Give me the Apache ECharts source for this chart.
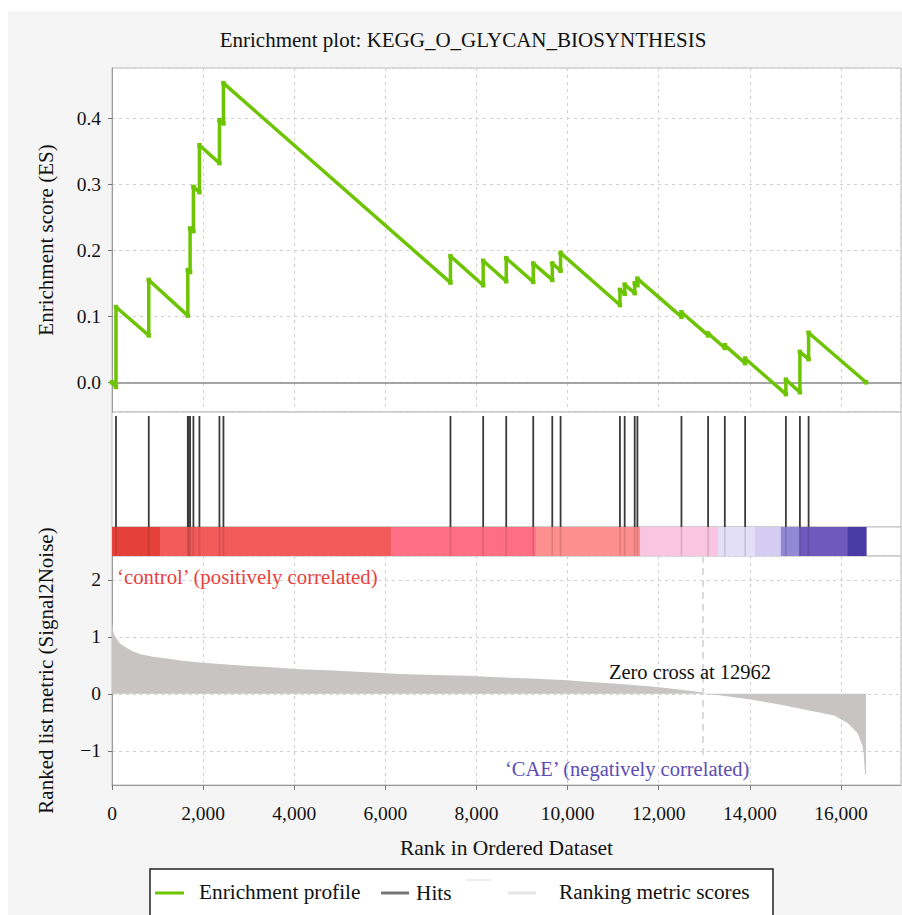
<!DOCTYPE html>
<html>
<head>
<meta charset="utf-8">
<script src="https://cdn.jsdelivr.net/npm/echarts@6/dist/echarts.min.js"></script>
<style>
html,body{margin:0;padding:0;background:#fff;}
#main{width:902px;height:915px;}
</style>
</head>
<body>
<div id="main"></div>
<script>
// ---------- data ----------
const chartTitle = 'Enrichment plot: KEGG_O_GLYCAN_BIOSYNTHESIS';
const rankMax = 17318;           // right edge of the x axis
const xTickStep = 2000;
const zeroCross = 12962;

// running enrichment score vertices [rank, ES]
const esCurve = [
  [0,0.000],[87,-0.007],[88,0.114],[807,0.071],[807,0.155],[1664,0.101],[1664,0.170],
  [1714,0.167],[1714,0.233],[1787,0.229],[1787,0.296],[1919,0.288],[1919,0.359],
  [2358,0.332],[2358,0.397],[2446,0.392],[2446,0.453],[7429,0.151],[7429,0.191],
  [8147,0.147],[8147,0.184],[8653,0.153],[8653,0.188],[9246,0.152],[9246,0.180],
  [9664,0.155],[9664,0.180],[9846,0.169],[9846,0.196],[11149,0.117],[11149,0.140],
  [11253,0.134],[11253,0.148],[11473,0.135],[11473,0.150],[11532,0.147],[11532,0.157],
  [12499,0.099],[12499,0.106],[13084,0.071],[13084,0.074],[13451,0.052],[13451,0.056],
  [13897,0.029],[13897,0.036],[14791,-0.018],[14791,0.004],[15099,-0.015],[15099,0.046],
  [15290,0.035],[15290,0.075],[16550,0.000]
];

// positions of gene-set members in the ranked list
const hitRanks = [88,807,1664,1686,1714,1787,1919,2358,2446,7429,8147,8653,9246,9664,9846,
  11149,11253,11473,11532,12499,13084,13451,13897,14791,15099,15290];

// ranked list metric samples [rank, Signal2Noise]
const metricCurve = [
  [0,1.27],[8,1.22],[20,1.12],[45,1.04],[100,0.97],[180,0.88],[320,0.81],[450,0.75],[615,0.70],
  [900,0.65],[1200,0.62],[1550,0.58],[1934,0.55],[2300,0.53],[2660,0.505],[3000,0.49],
  [3400,0.47],[3800,0.45],[4130,0.43],[4860,0.41],[5600,0.38],[6330,0.35],[7060,0.33],
  [7795,0.32],[8455,0.29],[9200,0.27],[10000,0.24],[10500,0.21],[11018,0.18],[11500,0.15],
  [11970,0.12],[12483,0.07],[12962,0.03],[12963,-0.002],[13290,-0.02],[14022,-0.10],
  [14681,-0.19],[15413,-0.31],[15853,-0.38],[16147,-0.51],[16367,-0.69],[16476,-0.92],
  [16500,-1.05],[16530,-1.42],[16549,-1.42],[16550,0]
];

// heat-map bar segments [startRank, endRank]
const barSegments = [
  [0,1055],[1055,6125],[6125,9297],[9297,11589],[11589,13303],[13303,14110],
  [14110,14681],[14681,15084],[15084,16147],[16147,16550]
];
const barColors = ['#e5413a','#f35a5a','#fe6f86','#fe8f8f','#f9c5e0','#e3dff8',
  '#d5ccf1','#9189d6','#7059bc','#4a3aa5'];

// ---------- chart ----------
const FONT = '"Liberation Serif", "Times New Roman", serif';
const chart = echarts.init(document.getElementById('main'), null, {renderer:'svg'});

const gridLeft = 112, gridRight = 1;
const dashed = {show:true, lineStyle:{color:'#d0d0d0', type:[3,4], width:1}};
const fmtRank = v => v.toLocaleString('en-US');
const fmtMinus = v => (v < 0 ? '\u2212' + Math.abs(v) : String(v));

function xAx(gi, opts) {
  return Object.assign({
    type:'value', gridIndex:gi, min:0, max:rankMax, interval:xTickStep,
    axisLabel:{show:false}, axisTick:{show:false}, axisLine:{show:false},
    splitLine:{show:false}
  }, opts);
}

const option = {
  backgroundColor:'#f5f5f5',
  animation:false,
  grid:[
    {left:gridLeft, right:gridRight, top:68, height:344, show:true, backgroundColor:'#fff', borderColor:'#bdbdbd', borderWidth:1},
    {left:gridLeft, right:gridRight, top:412, height:115, show:true, backgroundColor:'#fff', borderColor:'#bdbdbd', borderWidth:1},
    {left:gridLeft, right:gridRight, top:527, height:29, show:true, backgroundColor:'#fff', borderColor:'#bdbdbd', borderWidth:1},
    {left:gridLeft, right:gridRight, top:556, height:229, show:true, backgroundColor:'#fff', borderColor:'#bdbdbd', borderWidth:1}
  ],
  xAxis:[
    xAx(0, {splitLine:dashed, axisLine:{show:true, onZero:true, lineStyle:{color:'#8a8a8a', width:1.5}}}),
    xAx(1, {}),
    xAx(2, {}),
    xAx(3, {
      splitLine:dashed,
      axisLine:{show:true, onZero:false, lineStyle:{color:'#9a9a9a', width:1}},
      axisTick:{show:true, length:5, lineStyle:{color:'#777'}},
      axisLabel:{show:true, formatter:fmtRank, showMaxLabel:false, margin:18,
        color:'#111', fontFamily:FONT, fontSize:19.5},
      name:'Rank in Ordered Dataset', nameLocation:'middle', nameGap:52,
      nameTextStyle:{color:'#111', fontFamily:FONT, fontSize:21.5}
    })
  ],
  yAxis:[
    {type:'value', gridIndex:0, min:-0.045, max:0.476, splitNumber:5,
      axisLine:{show:true, lineStyle:{color:'#9a9a9a'}},
      axisTick:{show:true, length:4, lineStyle:{color:'#777'}},
      axisLabel:{formatter:v => v.toFixed(1), showMinLabel:false, showMaxLabel:false,
        margin:11, color:'#111', fontFamily:FONT, fontSize:19.5},
      splitLine:dashed,
      name:'Enrichment score (ES)', nameLocation:'middle', nameGap:56,
      nameTextStyle:{color:'#111', fontFamily:FONT, fontSize:21}
    },
    {type:'value', gridIndex:1, min:0, max:1, show:false, splitLine:{show:false}},
    {type:'value', gridIndex:2, min:0, max:1, show:false, splitLine:{show:false}},
    {type:'value', gridIndex:3, min:-1.6, max:2.42, splitNumber:5,
      axisLine:{show:true, onZero:false, lineStyle:{color:'#9a9a9a'}},
      axisTick:{show:true, length:4, lineStyle:{color:'#777'}},
      axisLabel:{formatter:fmtMinus, showMinLabel:false, showMaxLabel:false,
        margin:11, color:'#111', fontFamily:FONT, fontSize:19.5},
      splitLine:dashed,
      name:'Ranked list metric (Signal2Noise)', nameLocation:'middle', nameGap:56,
      nameTextStyle:{color:'#111', fontFamily:FONT, fontSize:21}
    }
  ],
  series:[
    {
      name:'Enrichment profile', type:'line', xAxisIndex:0, yAxisIndex:0,
      data:esCurve, symbol:'rect', symbolSize:4.5, showSymbol:true,
      itemStyle:{color:'#6dc400'}, lineStyle:{color:'#6dc400', width:3.5}, z:5
    },
    {
      name:'Hits', type:'custom', xAxisIndex:1, yAxisIndex:1,
      data:hitRanks.map(r => [r, 0]), encode:{x:0, y:1},
      renderItem:(params, api) => {
        const top = api.coord([api.value(0), 1]);
        const bot = api.coord([api.value(0), 0]);
        return {type:'line', shape:{x1:top[0], y1:top[1] + 4, x2:bot[0], y2:bot[1]},
          style:{stroke:'#3a3a3a', lineWidth:1.8}};
      }, z:4
    },
    {
      name:'Bar', type:'custom', xAxisIndex:2, yAxisIndex:2,
      data:barSegments, encode:{x:[0,1]},
      renderItem:(params, api) => {
        const a = api.coord([api.value(0), 1]);
        const b = api.coord([api.value(1), 0]);
        return {type:'rect', shape:{x:a[0], y:a[1], width:b[0] - a[0] + 0.6, height:b[1] - a[1]},
          style:{fill:barColors[params.dataIndex]}};
      }, z:3
    },
    {
      name:'HitsOnBar', type:'custom', xAxisIndex:2, yAxisIndex:2,
      data:hitRanks.map(r => [r, 0]), encode:{x:0, y:1},
      renderItem:(params, api) => {
        const top = api.coord([api.value(0), 1]);
        const bot = api.coord([api.value(0), 0]);
        return {type:'line', shape:{x1:top[0], y1:top[1], x2:bot[0], y2:bot[1]},
          style:{stroke:'rgba(0,0,0,0.12)', lineWidth:1.8}};
      }, z:4
    },
    {
      name:'Ranking metric scores', type:'line', xAxisIndex:3, yAxisIndex:3,
      data:metricCurve, symbol:'none', lineStyle:{width:0},
      areaStyle:{color:'#c8c4c4', opacity:1}, z:3,
      markLine:{
        silent:true, symbol:'none', label:{show:false},
        lineStyle:{color:'#dadada', type:[7,5], width:2},
        data:[[{coord:[zeroCross, 2.42]}, {coord:[zeroCross, -1.1]}]]
      }
    }
  ],
  graphic:[
    {type:'rect', shape:{x:0, y:0, width:8, height:915}, style:{fill:'#fff'}, z:-1, silent:true},
    {type:'rect', shape:{x:0, y:0, width:902, height:11}, style:{fill:'#fff'}, z:-1, silent:true},
    {type:'text', x:463, y:40, style:{text:chartTitle, fill:'#111', font:'21px ' + FONT,
      textAlign:'center', textVerticalAlign:'middle', align:'center', verticalAlign:'middle'}},
    {type:'text', x:117, y:576, style:{text:'\u2018control\u2019 (positively correlated)', fill:'#e8413f',
      font:'20.8px ' + FONT, textAlign:'left', textVerticalAlign:'middle', align:'left', verticalAlign:'middle'}, z:10},
    {type:'text', x:690, y:672, style:{text:'Zero cross at ' + zeroCross, fill:'#111',
      font:'20.5px ' + FONT, textAlign:'center', textVerticalAlign:'middle', align:'center', verticalAlign:'middle'}, z:10},
    {type:'text', x:505, y:769, style:{text:'\u2018CAE\u2019 (negatively correlated)', fill:'#5b4cb6',
      font:'20.5px ' + FONT, textAlign:'left', textVerticalAlign:'middle', align:'left', verticalAlign:'middle'}, z:10},
    // legend box
    {type:'rect', shape:{x:150, y:869, width:623, height:70}, style:{fill:'#fff', stroke:'#222', lineWidth:1.5}, z:10},
    {type:'line', shape:{x1:155, y1:893, x2:184, y2:893}, style:{stroke:'#6dc400', lineWidth:3}, z:11},
    {type:'text', x:199, y:892, style:{text:'Enrichment profile', fill:'#111', font:'21.3px ' + FONT,
      textAlign:'left', textVerticalAlign:'middle', align:'left', verticalAlign:'middle'}, z:11},
    {type:'line', shape:{x1:381, y1:893, x2:409, y2:893}, style:{stroke:'#777', lineWidth:3}, z:11},
    {type:'text', x:416, y:893, style:{text:'Hits', fill:'#111', font:'21.3px ' + FONT,
      textAlign:'left', textVerticalAlign:'middle', align:'left', verticalAlign:'middle'}, z:11},
    {type:'line', shape:{x1:466, y1:880, x2:491, y2:880}, style:{stroke:'#ececec', lineWidth:2}, z:11},
    {type:'line', shape:{x1:508, y1:893, x2:536, y2:893}, style:{stroke:'#e6e6e6', lineWidth:3}, z:11},
    {type:'text', x:559, y:892, style:{text:'Ranking metric scores', fill:'#111', font:'21.3px ' + FONT,
      textAlign:'left', textVerticalAlign:'middle', align:'left', verticalAlign:'middle'}, z:11}
  ]
};
chart.setOption(option);
</script>
</body>
</html>
